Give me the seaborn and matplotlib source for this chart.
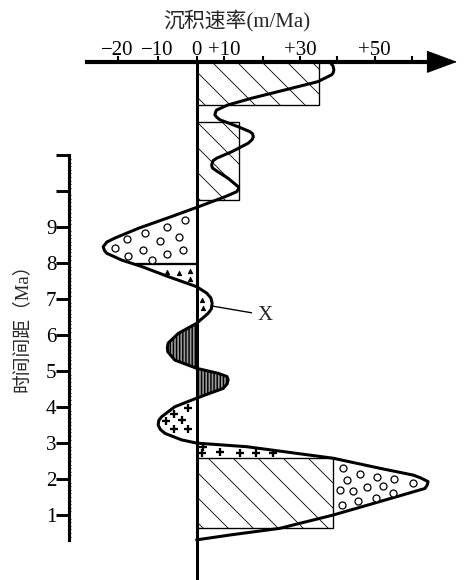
import numpy as np
import matplotlib
matplotlib.use('Agg')
import matplotlib.pyplot as plt
from matplotlib.ticker import FixedLocator, NullLocator
import seaborn as sns

# ---- axis definitions (the printed rate axis is unevenly spaced) ----
rate_ticks = [-20, -10, 0, 10, 20, 30, 40, 50, 60]
rate_tick_labels = ['−20', '−10', '0', '+10', '', '+30', '', '+50', '']
rate_tick_pos = [117.7, 157.7, 196.7, 224.0, 262.7, 300.0, 337.3, 374.7, 412.3]
time_ticks = [1, 2, 3, 4, 5, 6, 7, 8, 9, 10, 11]
time_tick_labels = ['1', '2', '3', '4', '5', '6', '7', '8', '9', '', '']

# ---- sedimentation-rate curve (rate in m/Ma, time in Ma) ----
curve_rate = [38.0, 38.9, 39.1, 38.9, 38.5, 34.8, 26.0, 17.2, 11.0, 7.3, 6.9, 6.7,
              7.4, 8.5, 13.6, 16.7, 17.4, 17.6, 17.3, 16.3, 12.0, 7.3, 6.0, 5.5,
              5.8, 6.7, 11.1, 13.7, 13.8, 13.3, 10.3, 0.6, -6.4, -14.85, -20.7,
              -22.7, -23.6, -23.3, -22.75, -19.0, -14.0, -7.3, 0.0, 3.7, 5.2, 5.7,
              5.4, 4.25, 0.0, -4.7, -7.3, -7.5, -7.4, -5.6, 0.0, 7.9, 10.8, 11.1,
              10.8, 9.7, 0.0, -5.6, -9.0, -9.7, -9.85, -9.3, -8.1, -3.85, 0.0, 15.9,
              38.9, 51.4, 60.3, 62.3, 64.2, 64.0, 63.4, 55.85, 38.9, 24.6, 11.55, 0.0]
curve_time = [13.6, 13.48, 13.38, 13.29, 13.24, 13.05, 12.82, 12.59, 12.40, 12.26,
              12.19, 12.12, 12.06, 11.99, 11.80, 11.66, 11.60, 11.52, 11.44, 11.34,
              11.10, 10.92, 10.85, 10.73, 10.65, 10.60, 10.36, 10.13, 10.07, 9.99,
              9.85, 9.57, 9.30, 8.97, 8.70, 8.59, 8.46, 8.36, 8.28, 8.09, 7.91, 7.63,
              7.35, 7.17, 7.04, 6.89, 6.73, 6.61, 6.33, 6.05, 5.78, 5.66, 5.54, 5.31,
              5.08, 4.94, 4.85, 4.76, 4.64, 4.52, 4.25, 4.01, 3.73, 3.63, 3.50, 3.38,
              3.27, 3.09, 3.00, 2.90, 2.58, 2.30, 2.11, 2.03, 1.93, 1.84, 1.74, 1.51,
              1.00, 0.63, 0.445, 0.31]

# ---- hatched rectangles ----
bar_rate = [35.1, 13.9, 38.9]
bar_bottom = [12.40, 9.76, 0.63]
bar_top = [13.6, 11.93, 2.58]

# ---- symbols ----
circle_rate = [-3.0, -7.7, -13.2, -17.7, -4.4, -9.4, -20.7, -13.6, -3.4, -7.7, -17.3, -11.3,
               41.6, 46.1, 50.7, 55.2, 42.5, 60.1, 40.7, 44.1, 48.0, 52.3, 54.9, 41.2, 45.6, 50.3]
circle_time = [9.20, 9.02, 8.83, 8.67, 8.72, 8.63, 8.42, 8.38, 8.38, 8.25, 8.20, 8.08,
               2.30, 2.14, 2.07, 1.99, 1.97, 1.88, 1.70, 1.67, 1.79, 1.82, 1.60, 1.28, 1.40, 1.48]
cross_rate = [-2.15, -5.9, -3.8, -7.9, -5.8, -2.15, 2.3, 2.1, 8.5, 14.1, 18.3, 22.7]
cross_time = [3.97, 3.80, 3.63, 3.62, 3.40, 3.40, 2.89, 2.72, 2.76, 2.72, 2.72, 2.72]
tri_rate = [-7.5, -4.6, -1.8, -1.8, 2.1, 2.3]
tri_time = [7.75, 7.72, 7.78, 7.55, 6.97, 6.75]

boundary_time = 7.97
boundary_rate = -15.5

sns.set_style('white')
plt.rcParams['font.family'] = ['Liberation Serif', 'Noto Sans CJK SC', 'DejaVu Sans']
plt.rcParams['hatch.linewidth'] = 0.8
plt.rcParams['axes.edgecolor'] = 'black'
plt.rcParams['xtick.color'] = 'black'
plt.rcParams['ytick.color'] = 'black'

DPI = 75
fig = plt.figure(figsize=(465 / DPI, 580 / DPI), dpi=DPI)
ax = fig.add_axes([0, 0, 1, 1])

xv = np.array([-100.0] + rate_ticks + [150.0])
xp = np.array([rate_tick_pos[0] - 80 * 4.0] + rate_tick_pos + [rate_tick_pos[-1] + 90 * 3.77])
ax.set_xscale('function', functions=(lambda v: np.interp(v, xv, xp),
                                     lambda p: np.interp(p, xp, xv)))
ax.set_xlim(-49.4, 74.0)
ax.set_ylim(-0.806, 15.32)

# spines
ax.spines['right'].set_visible(False)
ax.spines['bottom'].set_visible(False)
ax.spines['top'].set_position(('data', 13.6))
ax.spines['top'].set_bounds(-27.7, 68)
ax.spines['top'].set_linewidth(4)
ax.spines['left'].set_position(('data', -32.05))
ax.spines['left'].set_bounds(0.31, 11)
ax.spines['left'].set_linewidth(3)

ax.xaxis.set_ticks_position('top')
ax.set_xticks(rate_ticks, rate_tick_labels)
ax.xaxis.set_minor_locator(NullLocator())
ax.tick_params(axis='x', which='major', top=True, bottom=False, labeltop=True,
               labelbottom=False, direction='out', length=6, width=2, pad=-4,
               labelsize=20)
ax.set_yticks(time_ticks, time_tick_labels)
ax.yaxis.set_minor_locator(FixedLocator(np.arange(0.4, 11.0, 0.1)))
ax.tick_params(axis='y', which='major', left=True, right=False, labelleft=True,
               direction='out', length=12.5, width=2.8, pad=0, labelsize=20)
ax.tick_params(axis='y', which='minor', left=True, direction='in', length=2.2, width=0.8)

# arrow head of the rate axis
ax.annotate('', xy=(71.9, 13.6), xytext=(64, 13.6),
            arrowprops=dict(arrowstyle='-|>,head_length=1.35,head_width=0.5',
                            color='black', lw=1, mutation_scale=20,
                            shrinkA=0, shrinkB=0))

# hatched rectangles
b = np.array(bar_bottom)
t = np.array(bar_top)
ax.barh(y=(b + t) / 2, width=bar_rate, height=t - b, left=0, facecolor='white',
        edgecolor='black', hatch='\\', linewidth=1.3, zorder=2)

# vertical-line pattern between curve and zero line
ct = np.array(curve_time)
cr = np.array(curve_rate)
mask = (ct >= 4.25) & (ct <= 6.33)
vcoll = ax.fill_betweenx(ct, cr, 0, where=mask, facecolor='#9a9a9a', edgecolor='black',
                         hatch='||||', linewidth=0, zorder=3)
if hasattr(vcoll, 'set_hatch_linewidth'):
    vcoll.set_hatch_linewidth(1.4)

# boundary between circle and triangle patterns
ax.hlines(boundary_time, boundary_rate, 0, color='black', lw=2.2, zorder=4)

# zero line
ax.vlines(0, -0.806, 13.6, color='black', lw=2.9, zorder=4)

# curve
sns.lineplot(x=curve_rate, y=curve_time, sort=False, orient='y', estimator=None,
             color='black', linewidth=2.9, ax=ax, zorder=5,
             solid_joinstyle='round', solid_capstyle='round')

# symbols
sns.scatterplot(x=circle_rate, y=circle_time, marker='o', s=45, color='white',
                edgecolor='black', linewidth=1.2, ax=ax, zorder=6)
ax.scatter(cross_rate, cross_time, marker='+', s=60, color='black', linewidths=2.2, zorder=6)
ax.scatter(tri_rate, tri_time, marker='^', s=16, color='black', zorder=6)

# label X
ax.annotate('X', xy=(5.8, 6.81), xytext=(20.6, 6.56), fontsize=20, ha='center',
            va='center', arrowprops=dict(arrowstyle='-', color='black', lw=1.3,
                                         shrinkA=3, shrinkB=0))

# titles
ax.text(13.3, 14.74, '沉积速率(m/Ma)', ha='center', va='center', fontsize=20)
ax.text(-44.05, 6.34, '时间间距（Ma）', rotation=90, ha='center', va='center', fontsize=18)

fig.savefig('out.png', dpi=DPI)
